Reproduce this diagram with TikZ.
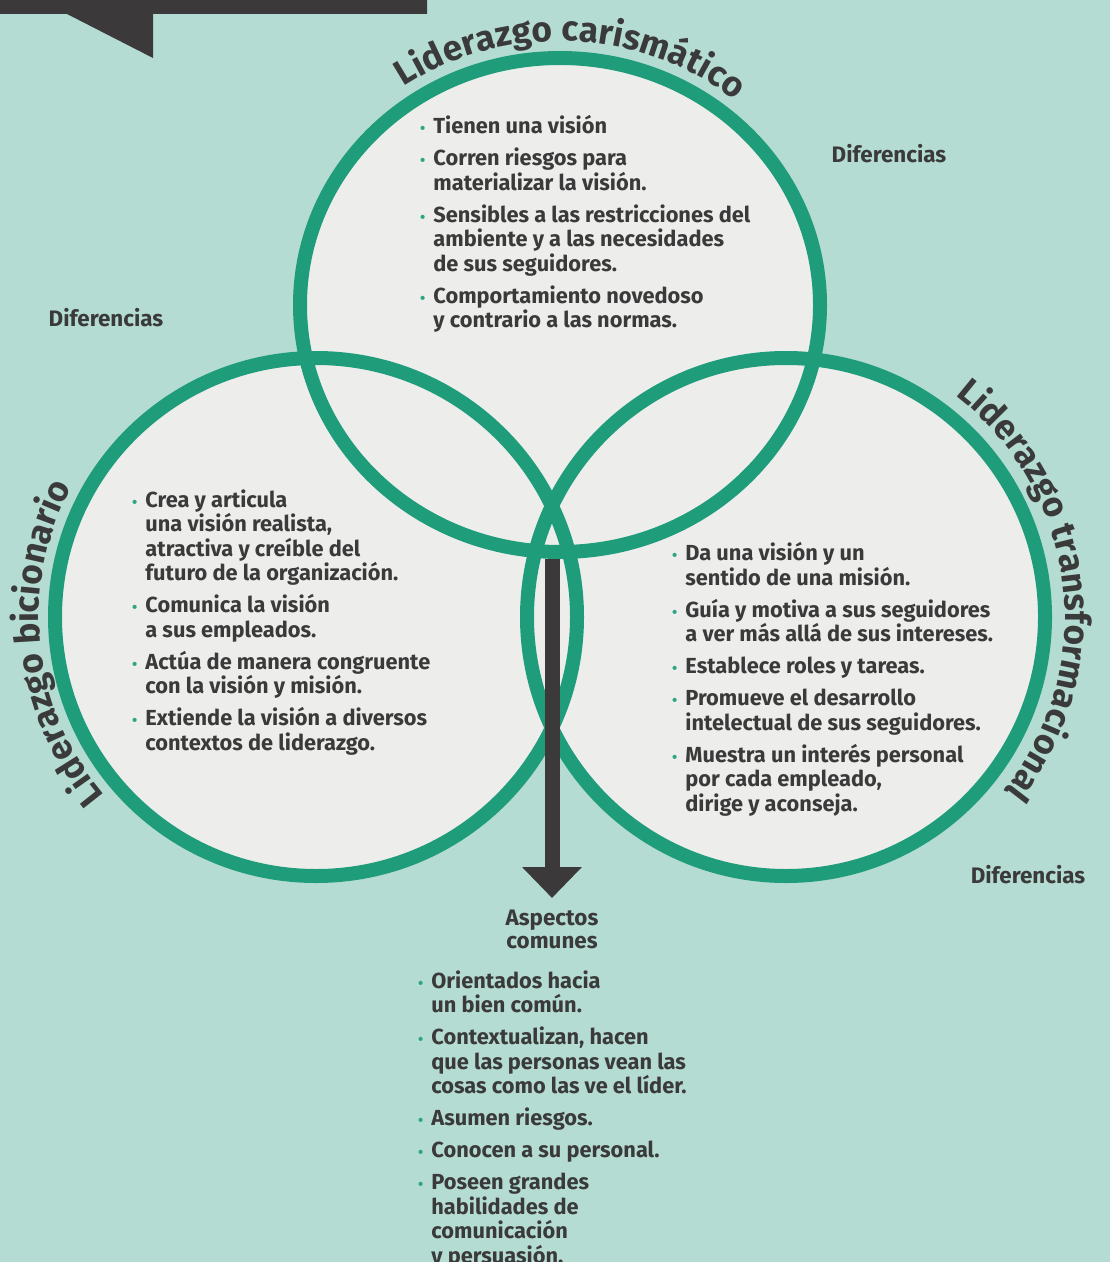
\documentclass[tikz,border=0pt]{standalone}
\usepackage{fontspec}
\setmainfont{Fira Sans}
\usepackage{tikz}
\usetikzlibrary{arrows.meta,decorations.text}

\definecolor{fondo}{HTML}{B4DCD2}
\definecolor{relleno}{HTML}{EDEEEB}
\definecolor{anillo}{HTML}{1F9D7B}
\definecolor{punto}{HTML}{2EA486}
\definecolor{texto}{HTML}{3A3A3A}
\definecolor{oscuro}{HTML}{3B393A}

\newcommand{\vi}{\llap{\textcolor{punto}{\fontsize{7.5}{7.5}\selectfont\textbullet}\hspace{4pt}}}
\newcommand{\titulofont}{\fontsize{17.6}{17.6}\selectfont\bfseries}

\begin{document}
\begin{tikzpicture}[x=0.5pt,y=0.5pt,
    ring/.style={draw=anillo,line width=7pt},
    lista/.style={anchor=north west,inner sep=0pt,align=left,text=texto,font=\fontsize{10.9}{12.25}\selectfont\bfseries},
    dif/.style={inner sep=0pt,text=texto,font=\fontsize{11.2}{11.5}\selectfont\bfseries},
    flecha/.style={draw=oscuro,line width=7.5pt,-{Triangle[width=29pt,length=15.5pt]}},
    curva/.style={decorate,decoration={text along path,text align=center,text color=texto}}]

    % Fondo
    \useasboundingbox (0,0) rectangle (1110,-1262);
    \fill[fondo] (0,0) rectangle (1110,-1262);
    \fill[oscuro] (0,0) -- (427,0) -- (427,-14) -- (153,-14) -- (153,-58) -- (67,-14) -- (0,-14) -- cycle;

    % Circulos
    \coordinate (cC) at (560,-305);
    \coordinate (cB) at (316,-617);
    \coordinate (cT) at (786,-617);
    \foreach \c/\rx/\ry in {cC/260/247, cB/261/259, cT/259/259}
        \fill[relleno] (\c) ellipse [x radius=\rx, y radius=\ry];
    \foreach \c/\rx/\ry in {cC/260/247, cB/261/259, cT/259/259}
        \draw[ring] (\c) ellipse [x radius=\rx, y radius=\ry];

    % Titulos
    \path[curva,decoration={text={|\titulofont|Liderazgo carismático}}]
        (cC) ++(148.5:277 and 264) arc [start angle=148.5, end angle=26.5, x radius=277, y radius=264];
    \path[curva,decoration={text={|\titulofont|Liderazgo bicionario}}]
        (cB) ++(246:277 and 276) arc [start angle=246, end angle=126, x radius=277, y radius=276];
    \path[curva,decoration={text={|\titulofont|Liderazgo transformacional}}]
        (cT) ++(69:279 and 279) arc [start angle=69, end angle=-55, x radius=279, y radius=279];

    % Diferencias
    \node[dif] (dif1) at (106,-318) {Diferencias};
    \node[dif] (dif2) at (889,-154) {Diferencias};
    \node[dif] (dif3) at (1028,-875) {Diferencias};

    % Listas
    \node[lista] (lC) at (433,-115) {\vi Tienen una visión\\[3.75pt]\vi Corren riesgos para\\materializar la visión.\\[3.75pt]\vi Sensibles a las restricciones del\\ambiente y a las necesidades\\de sus seguidores.\\[3.75pt]\vi Comportamiento novedoso\\y contrario a las normas.};
    \node[lista] (lB) at (145,-489) {\vi Crea y articula\\una visión realista,\\atractiva y creíble del\\futuro de la organización.\\[3.75pt]\vi Comunica la visión\\a sus empleados.\\[3.75pt]\vi Actúa de manera congruente\\con la visión y misión.\\[3.75pt]\vi Extiende la visión a diversos\\contextos de liderazgo.};
    \node[lista] (lT) at (685,-542) {\vi Da una visión y un\\sentido de una misión.\\[3.75pt]\vi Guía y motiva a sus seguidores\\a ver más allá de sus intereses.\\[3.75pt]\vi Establece roles y tareas.\\[3.75pt]\vi Promueve el desarrollo\\intelectual de sus seguidores.\\[3.75pt]\vi Muestra un interés personal\\por cada empleado,\\dirige y aconseja.};

    % Aspectos comunes
    \coordinate (base) at (552,-559);
    \node[dif,anchor=north,align=center] (aspectos) at (552,-910) {Aspectos\\comunes};
    \draw[flecha,shorten >=6pt] (base) -- (base |- aspectos.north);
    \node[lista] (lA) at (431,-970) {\vi Orientados hacia\\un bien común.\\[3.75pt]\vi Contextualizan, hacen\\que las personas vean las\\cosas como las ve el líder.\\[3.75pt]\vi Asumen riesgos.\\[3.75pt]\vi Conocen a su personal.\\[3.75pt]\vi Poseen grandes\\habilidades de\\comunicación\\y persuasión.};

\end{tikzpicture}
\end{document}
